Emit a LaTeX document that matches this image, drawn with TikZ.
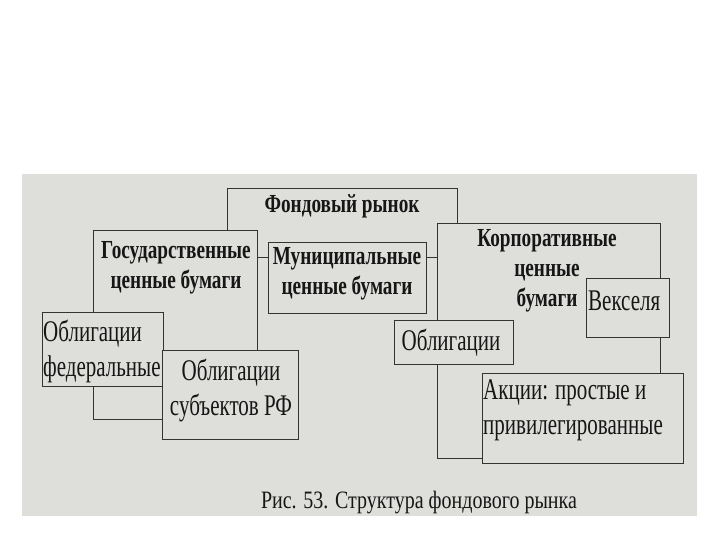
\documentclass[tikz,border=0pt]{standalone}
\usepackage{fontspec}
\newfontfamily\bookfont[FakeStretch=0.7]{Liberation Serif}
\newfontfamily\headfont[FakeStretch=0.74]{Liberation Serif}
\newfontfamily\capfont[FakeStretch=0.8]{Liberation Serif}
\usetikzlibrary{positioning}
\definecolor{PaperGray}{HTML}{DEDEDB}
\definecolor{InkGray}  {HTML}{333333}
\definecolor{TextInk}  {HTML}{161616}

\begin{document}
\begin{tikzpicture}[x=1pt,y=-1pt,
  box/.style={draw=InkGray,fill=PaperGray,line width=1pt,
    inner sep=0pt,anchor=north west},
  boldtext/.style={font=\headfont\bfseries\fontsize{26}{30}\selectfont,
    text=TextInk,align=center,inner sep=0pt},
  plaintext/.style={font=\bookfont\fontsize{30}{35}\selectfont,
    text=TextInk,inner sep=0pt}]
  \useasboundingbox (0,0) rectangle (720,540);
  % Photographed page
  \fill[PaperGray] (22,174) rectangle (697,516);
  % Top level
  \node[box,minimum width=230pt,minimum height=69pt]
    (fond) at (227,188) {};
  \node[boldtext] (fondT) at (342,206) {Фондовый рынок};
  % Second level
  \node[box,minimum width=164pt,minimum height=189pt]
    (gov) at (93,230) {};
  \node[boldtext] (govT) at (176,268) {Государственные\\ценные бумаги};
  \node[box,minimum width=158pt,minimum height=71pt]
    (mun) at (268,242) {};
  \node[boldtext] (munT) at (347,274) {Муниципальные\\ценные бумаги};
  \node[box,minimum width=223pt,minimum height=235pt]
    (corp) at (437,223) {};
  \node[boldtext] (corpT) at (547,271) {Корпоративные\\ценные\\бумаги};
  % Government securities
  \node[box,minimum width=121pt,minimum height=74pt]
    (fed) at (42,312) {};
  \node[plaintext,align=left,anchor=west]
    (fedT) at (43,351) {Облигации\\федеральные};
  \node[box,minimum width=136pt,minimum height=89pt]
    (sub) at (162,350) {};
  \node[plaintext,align=center] (subT) at (231,390) {Облигации\\субъектов РФ};
  % Corporate securities
  \node[box,minimum width=83pt,minimum height=59pt]
    (vek) at (586,278) {};
  \node[plaintext,anchor=west] (vekT) at (588,301) {Векселя};
  \node[box,minimum width=119pt,minimum height=44pt]
    (obl) at (394,320) {};
  \node[plaintext] (oblT) at (451,343) {Облигации};
  \node[box,minimum width=201pt,minimum height=90pt]
    (akc) at (482,373) {};
  \node[plaintext,align=left,anchor=west]
    (akcT) at (483,410) {Акции: простые и\\привилегированные};
  % Caption
  \node[font=\capfont\fontsize{25}{28}\selectfont,text=TextInk,inner sep=0pt]
    (caption) at (419,503) {Рис. 53. Структура фондового рынка};
\end{tikzpicture}
\end{document}
